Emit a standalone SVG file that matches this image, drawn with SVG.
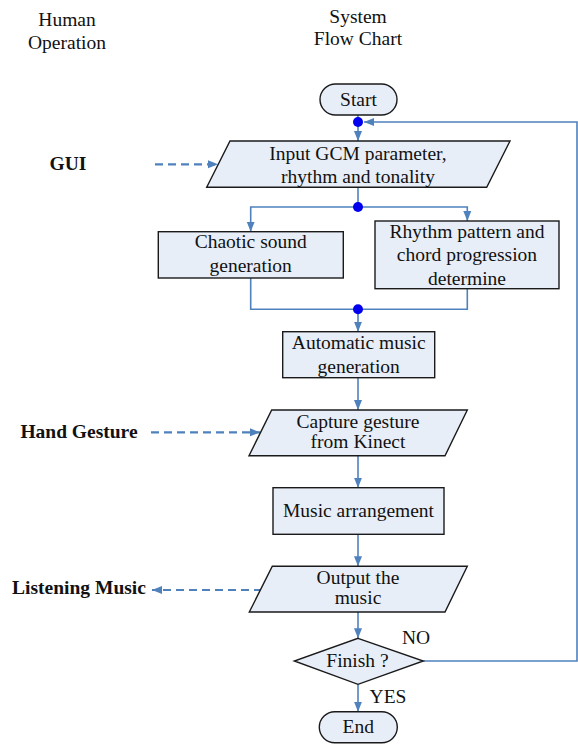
<svg xmlns="http://www.w3.org/2000/svg" width="578" height="744" viewBox="0 0 578 744">
<style>
text{font-family:"Liberation Serif","Times New Roman",serif;font-size:19.5px;fill:#111;text-anchor:middle}
.b{font-weight:bold}
.l{text-anchor:start}
.n{fill:#e8eef8;stroke:#1a1a1a;stroke-width:1.4}
.c{fill:none;stroke:#4f81bd;stroke-width:1.6}
.d{fill:none;stroke:#4f81bd;stroke-width:2.2;stroke-dasharray:8 5}
.dot{fill:#0000ee}
</style>
<defs>
<marker id="a" markerUnits="userSpaceOnUse" markerWidth="10" markerHeight="10" viewBox="0 0 10 10" refX="10" refY="5" orient="auto">
<path d="M0,1 L10,5 L0,9 Z" fill="#4f81bd"/>
</marker>
</defs>
<g id="headers">
<text x="67" y="25.5">Human</text>
<text x="67" y="49">Operation</text>
<text x="358" y="22.5">System</text>
<text x="358" y="45">Flow Chart</text>
</g>
<g id="connectors">
<path class="c" d="M358,115 V141" marker-end="url(#a)"/>
<path class="c" d="M423.3,661 H577 V122 H364" marker-end="url(#a)"/>
<path class="c" d="M358,187.3 V207"/>
<path class="c" d="M358,207 H250.7 V231.7" marker-end="url(#a)"/>
<path class="c" d="M358,207 H467.3 V221" marker-end="url(#a)"/>
<path class="c" d="M250.7,278 V309.3 H467.3 V288.7"/>
<path class="c" d="M358,309.3 V331.7" marker-end="url(#a)"/>
<path class="c" d="M358,377.7 V410" marker-end="url(#a)"/>
<path class="c" d="M358,455.7 V487.7" marker-end="url(#a)"/>
<path class="c" d="M358,534.3 V566.3" marker-end="url(#a)"/>
<path class="c" d="M358,612 V638.3" marker-end="url(#a)"/>
<path class="c" d="M358,684.3 V711.7" marker-end="url(#a)"/>
<path class="d" d="M155,164.3 H218" marker-end="url(#a)"/>
<path class="d" d="M151,432.3 H260" marker-end="url(#a)"/>
<path class="d" d="M262,590 H152" marker-end="url(#a)"/>
<circle class="dot" cx="358" cy="122" r="5"/>
<circle class="dot" cx="358" cy="207" r="5"/>
<circle class="dot" cx="358" cy="309.3" r="5"/>
<text x="416" y="644">NO</text>
<text x="388" y="703">YES</text>
</g>
<g id="start">
<rect class="n" x="320" y="84" width="77" height="31" rx="15.5"/>
<text x="358.5" y="106">Start</text>
</g>
<g id="gui"><text class="b" x="68" y="170">GUI</text></g>
<g id="input">
<polygon class="n" points="230,141 510,141 486.7,187.3 206.7,187.3"/>
<text x="358" y="160">Input GCM parameter,</text>
<text x="358" y="183">rhythm and tonality</text>
</g>
<g id="chaotic">
<rect class="n" x="158.3" y="231.7" width="185" height="46.3"/>
<text x="250.7" y="248">Chaotic sound</text>
<text x="250.7" y="271.5">generation</text>
</g>
<g id="rhythm">
<rect class="n" x="375" y="221" width="184" height="67.7"/>
<text x="467" y="238">Rhythm pattern and</text>
<text x="467" y="261.3">chord progression</text>
<text x="467" y="284.7">determine</text>
</g>
<g id="automatic">
<rect class="n" x="282.7" y="331.7" width="152" height="46"/>
<text x="358.7" y="349.3">Automatic music</text>
<text x="358.7" y="372.7">generation</text>
</g>
<g id="hand"><text class="b" x="79" y="438">Hand Gesture</text></g>
<g id="capture">
<polygon class="n" points="271.7,410 467.3,410 445,455.7 249,455.7"/>
<text x="358" y="428.3">Capture gesture</text>
<text x="358" y="447.5">from Kinect</text>
</g>
<g id="arrangement">
<rect class="n" x="273" y="487.7" width="171" height="46.6"/>
<text x="358.5" y="517">Music arrangement</text>
</g>
<g id="listening"><text class="b" x="79" y="594">Listening Music</text></g>
<g id="output">
<polygon class="n" points="272.3,566.3 467.3,566.3 445,612 249.3,612"/>
<text x="358" y="584.3">Output the</text>
<text x="358" y="603.5">music</text>
</g>
<g id="finish">
<polygon class="n" points="358,638.3 423.3,661 358,684.3 294.3,661"/>
<text x="357.5" y="667.3">Finish ?</text>
</g>
<g id="end">
<rect class="n" x="319.3" y="711.7" width="78" height="31" rx="15.5"/>
<text x="358.3" y="733">End</text>
</g>
</svg>
